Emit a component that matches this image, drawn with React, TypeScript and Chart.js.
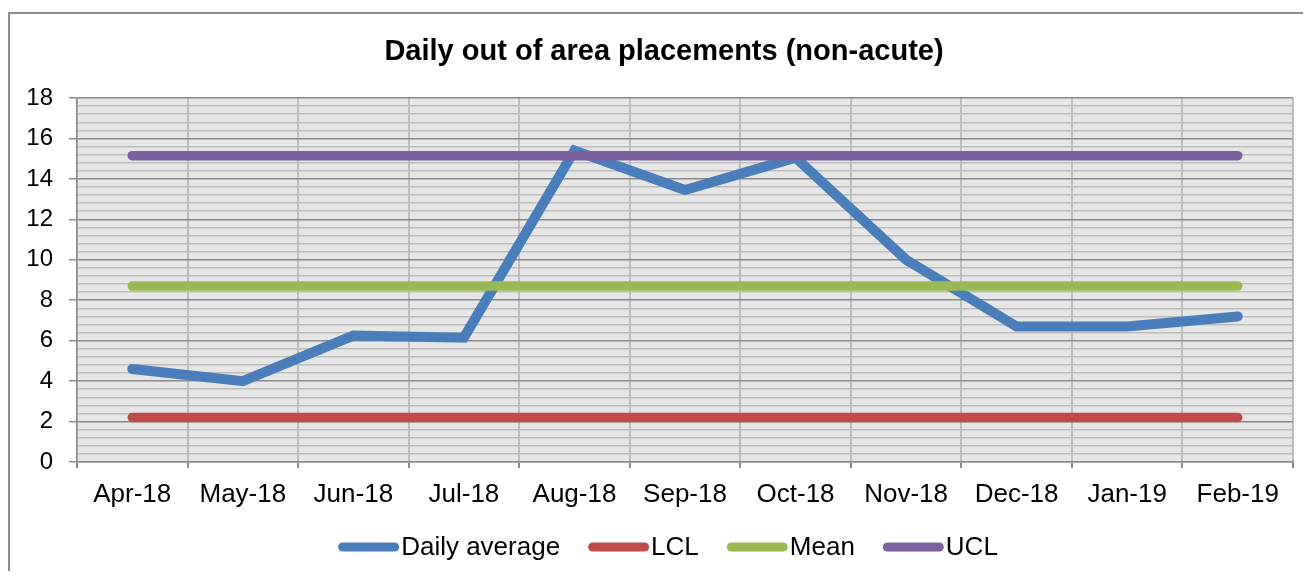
import React, { useEffect, useRef } from "react";
import { Chart, registerables } from "chart.js";

Chart.register(...registerables);

const categories = ["Apr-18", "May-18", "Jun-18", "Jul-18", "Aug-18", "Sep-18", "Oct-18", "Nov-18", "Dec-18", "Jan-19", "Feb-19"];
const dailyAverage = [4.6, 4.0, 6.25, 6.15, 15.4, 13.45, 15.05, 10.0, 6.7, 6.7, 7.2];
const lcl = [2.2, 2.2, 2.2, 2.2, 2.2, 2.2, 2.2, 2.2, 2.2, 2.2, 2.2];
const mean = [8.7, 8.7, 8.7, 8.7, 8.7, 8.7, 8.7, 8.7, 8.7, 8.7, 8.7];
const ucl = [15.15, 15.15, 15.15, 15.15, 15.15, 15.15, 15.15, 15.15, 15.15, 15.15, 15.15];
const yMin = 0;
const yMax = 18;
const yStep = 0.4;
const yMajorStep = 2;

const FONT = '"Liberation Sans", Arial, sans-serif';

const isMajor = (v: number) => Math.abs(v / yMajorStep - Math.round(v / yMajorStep)) < 1e-6;

const plotBg = {
  id: "plotBg",
  beforeDraw(chart: any) {
    const { ctx, chartArea } = chart;
    ctx.save();
    ctx.fillStyle = "#e6e6e6";
    ctx.fillRect(chartArea.left, chartArea.top, chartArea.right - chartArea.left, chartArea.bottom - chartArea.top);
    ctx.restore();
  },
};

const customLegend = {
  id: "customLegend",
  afterDraw(chart: any) {
    const ctx = chart.ctx;
    ctx.save();
    ctx.font = `26px ${FONT}`;
    const items = chart.data.datasets.map((d: any) => ({ text: d.label, color: d.borderColor }));
    const symW = 61;
    const symH = 9;
    const gap = 2;
    const spacing = 28;
    const widths = items.map((it: any) => symW + gap + ctx.measureText(it.text).width);
    const total = widths.reduce((a: number, b: number) => a + b, 0) + spacing * (items.length - 1);
    let x = 658 - total / 2;
    const y = 533;
    items.forEach((it: any, i: number) => {
      ctx.fillStyle = it.color;
      ctx.beginPath();
      ctx.roundRect(x, y - symH / 2, symW, symH, symH / 2);
      ctx.fill();
      ctx.fillStyle = "#000";
      ctx.textBaseline = "middle";
      ctx.textAlign = "left";
      ctx.fillText(it.text, x + symW + gap, y + 1);
      x += widths[i] + spacing;
    });
    ctx.restore();
  },
};

export default function App() {
  const canvasRef = useRef<HTMLCanvasElement | null>(null);

  useEffect(() => {
    if (!canvasRef.current) return;
    const lineCommon = {
      borderWidth: 10,
      pointRadius: 0,
      pointHoverRadius: 0,
      tension: 0,
      fill: false,
      borderCapStyle: "round" as const,
      borderJoinStyle: "miter" as const,
    };
    const chart = new Chart(canvasRef.current, {
      type: "line",
      data: {
        labels: categories,
        datasets: [
          { label: "Daily average", data: dailyAverage, borderColor: "#4a7ebb", backgroundColor: "#4a7ebb", order: 4, ...lineCommon },
          { label: "LCL", data: lcl, borderColor: "#be4b48", backgroundColor: "#be4b48", order: 3, ...lineCommon, borderWidth: 9.5 },
          { label: "Mean", data: mean, borderColor: "#98b954", backgroundColor: "#98b954", order: 2, ...lineCommon, borderWidth: 9.5 },
          { label: "UCL", data: ucl, borderColor: "#7d60a0", backgroundColor: "#7d60a0", order: 1, ...lineCommon, borderWidth: 9.5 },
        ],
      },
      options: {
        responsive: false,
        animation: false,
        devicePixelRatio: 1,
        layout: { padding: { left: 7, right: 0, top: 0, bottom: 0 } },
        plugins: {
          legend: { display: false },
          tooltip: { enabled: false },
          title: {
            display: true,
            text: "Daily out of area placements (non-acute)",
            color: "#000",
            font: { family: FONT, size: 29, weight: "bold" },
            padding: { top: 20.6, bottom: 28.6 },
          },
        },
        scales: {
          x: {
            type: "category",
            offset: true,
            grid: {
              offset: true,
              color: "#bdbdbd",
              lineWidth: 2,
              tickLength: 6,
              tickColor: "#8a8a8a",
              drawOnChartArea: true,
            },
            border: { color: "#8a8a8a", width: 1.5 },
            ticks: {
              color: "#000",
              font: { family: FONT, size: 26 },
              padding: 11,
              maxRotation: 0,
              autoSkip: false,
            },
            afterFit: (scale: any) => {
              scale.height = 109;
            },
          },
          y: {
            type: "linear",
            min: yMin,
            max: yMax,
            ticks: {
              stepSize: yStep,
              autoSkip: false,
              color: "#000",
              font: { family: FONT, size: 24 },
              padding: 16,
              callback: (v: any) => (isMajor(Number(v)) ? String(Math.round(Number(v))) : ""),
            },
            grid: {
              color: (c: any) => (c.tick && isMajor(c.tick.value) ? "#8a8a8a" : "#bdbdbd"),
              lineWidth: 1.5,
              tickLength: 8,
              tickColor: (c: any) => (c.tick && isMajor(c.tick.value) ? "#8a8a8a" : "rgba(0,0,0,0)"),
            },
            border: { color: "#8a8a8a", width: 1.5 },
            afterFit: (scale: any) => {
              scale.width = 60;
            },
          },
          yRightSpace: {
            type: "linear",
            position: "right",
            display: true,
            min: yMin,
            max: yMax,
            grid: { display: false, drawOnChartArea: false },
            border: { display: false },
            ticks: { display: false },
            afterFit: (scale: any) => {
              scale.width = 18;
            },
          },
        },
      },
      plugins: [plotBg, customLegend],
    });
    return () => chart.destroy();
  }, []);

  return (
    <div style={{ paddingTop: 4 }}>
      <div
        style={{
          borderTop: "2px solid #8c8c8c",
          borderLeft: "2px solid #8c8c8c",
          width: 1301,
          height: 557,
          background: "#fff",
        }}
      >
        <canvas ref={canvasRef} width={1301} height={557} style={{ display: "block", width: 1301, height: 557 }} />
      </div>
    </div>
  );
}
